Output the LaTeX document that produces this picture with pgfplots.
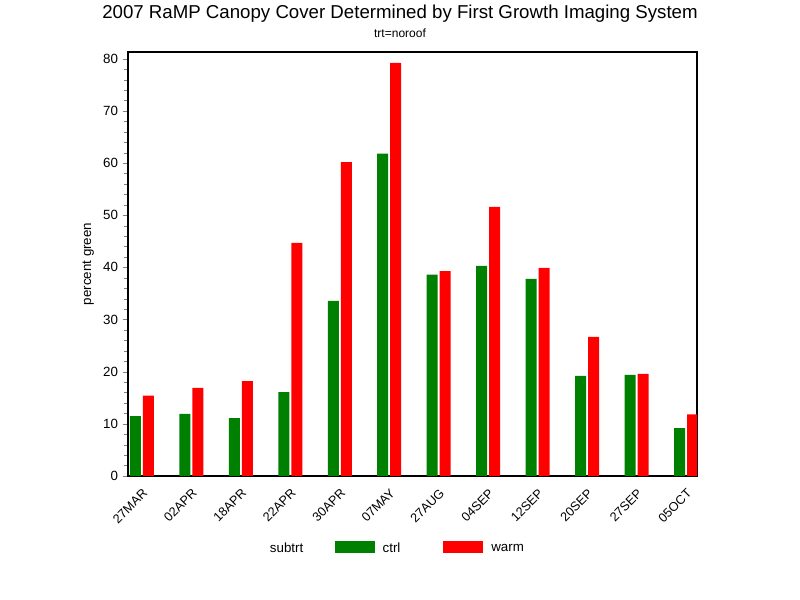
\documentclass[border=0pt]{standalone}
\usepackage{pgfplots}
\pgfplotsset{compat=1.18}
\usepackage{fontspec}
\setmainfont{Liberation Sans}
\definecolor{ctrlgreen}{RGB}{0,128,0}
\definecolor{warmred}{RGB}{255,0,0}

\pgfplotstableread{
x ctrl warm
0  11.5 15.4
1  11.9 16.9
2  11.1 18.2
3  16.1 44.7
4  33.6 60.2
5  61.8 79.2
6  38.6 39.3
7  40.3 51.6
8  37.8 39.9
9  19.2 26.7
10 19.4 19.6
11  9.2 11.8
}\canopy

\begin{document}
\begin{tikzpicture}
\path[use as bounding box] (0,0) rectangle (600pt,450pt);
\node[font=\fontsize{14}{16}\selectfont] at (300pt,440pt) {2007 RaMP Canopy Cover Determined by First Growth Imaging System};
\node[font=\fontsize{9}{11}\selectfont] at (300pt,425pt) {trt=noroof};
\begin{axis}[
    at={(96pt,93pt)}, anchor=south west,
    scale only axis, width=426.75pt, height=318pt,
    ybar=1.5pt, bar width=8.25pt,
    xmin=-0.28, xmax=11.22,
    ymin=0, ymax=81.3,
    xtick=data,
    xticklabels={27MAR,02APR,18APR,22APR,30APR,07MAY,27AUG,04SEP,12SEP,20SEP,27SEP,05OCT},
    x tick label style={rotate=45, anchor=north east, font=\fontsize{9.5}{11}\selectfont},
    xtick style={draw=none},
    ytick={0,10,...,80},
    minor y tick num=4,
    tick align=outside,
    ytick pos=left,
    major tick length=4pt, minor tick length=3pt,
    ylabel={percent green},
    y tick label style={font=\fontsize{10}{12}\selectfont},
    label style={font=\fontsize{10}{12}\selectfont},
    /pgf/number format/assume math mode=true,
    axis line style={line width=0.9pt},
    legend style={at={(0.2373,-0.172)}, anchor=west, draw=none, legend columns=3,
        font=\fontsize{10}{12}\selectfont,
        cells={inner sep=0pt}, column sep=0pt},
    legend image code/.code={\fill[#1] (0pt,-2.75pt) rectangle (30pt,6.25pt);},
]
\addlegendimage{empty legend}
\addlegendentry{\makebox[46.5pt][l]{subtrt}}
\addplot[fill=ctrlgreen, draw=none] table[x=x, y=ctrl] {\canopy};
\addlegendentry{\makebox[47.5pt][l]{\hspace*{4pt}ctrl}}
\addplot[fill=warmred, draw=none] table[x=x, y=warm] {\canopy};
\addlegendentry{\makebox[30pt][l]{\hspace*{4pt}warm}}
\end{axis}
\end{tikzpicture}
\end{document}
